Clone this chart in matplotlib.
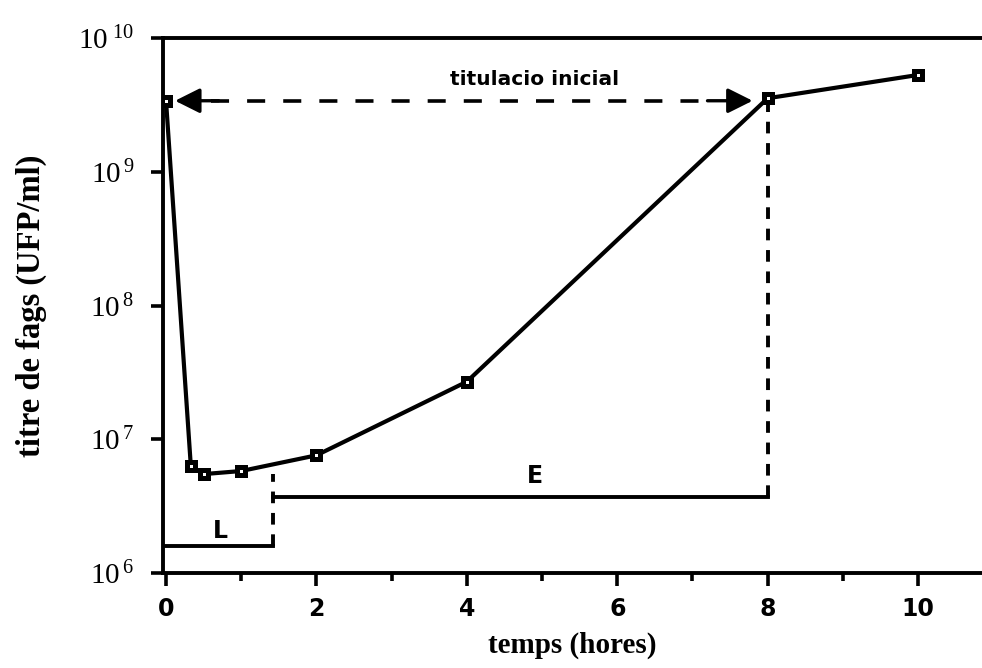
import numpy as np
import matplotlib
matplotlib.use("Agg")
import matplotlib.pyplot as plt
from matplotlib.ticker import FixedLocator, MultipleLocator

# dades llegides del grafic
temps = [0, 0.33, 0.5, 1, 2, 4, 8, 10]
titre = [3.4e9, 6.3e6, 5.5e6, 5.8e6, 7.6e6, 2.7e7, 3.55e9, 5.3e9]
x_ticks = [0, 2, 4, 6, 8, 10]
y_ticks = [1e6, 1e7, 1e8, 1e9, 1e10]
y_tick_labels = ["$10^{\\,6}$", "$10^{\\,7}$", "$10^{\\,8}$", "$10^{\\,9}$", "$10^{\\ 10}$"]

plt.rcParams['mathtext.fontset'] = 'custom'
plt.rcParams['mathtext.rm'] = 'Liberation Serif'
plt.rcParams['mathtext.it'] = 'Liberation Serif'

fig = plt.figure(figsize=(9.82, 6.68), dpi=100)
ax = fig.add_axes([0.166, 0.142, 0.834, 0.801])

ax.set_yscale('log')
ax.set_xlim(-0.04, 10.85)
ax.set_ylim(1e6, 1e10)

# corba principal
ax.plot(temps, titre, color='black', lw=3.0, zorder=3)
ax.plot(temps, titre, ls='none', marker='s', ms=6, mfc='white', mec='black', mew=3.6, zorder=4)

# titulacio inicial (fletxa discontinua)
y_arr = 3.4e9
ax.plot([0.6, 7.3], [y_arr, y_arr], color='black', lw=2.6, dashes=(5, 5), zorder=2)
ax.annotate('', xy=(0.12, y_arr), xytext=(0.7, y_arr),
            arrowprops=dict(arrowstyle='-|>', color='black', lw=2.4, mutation_scale=38, shrinkA=0, shrinkB=0))
ax.annotate('', xy=(7.8, y_arr), xytext=(7.2, y_arr),
            arrowprops=dict(arrowstyle='-|>', color='black', lw=2.4, mutation_scale=38, shrinkA=0, shrinkB=0))
ax.text(4.9, 4.9e9, 'titulacio inicial', fontsize=14.5, fontweight='bold', ha='center', va='center',
        family='DejaVu Sans')

# fases L i E
y_L = 1.6e6
y_E = 3.7e6
ax.plot([0, 1.42], [y_L, y_L], color='black', lw=2.8)
ax.plot([1.42, 1.42], [y_L, 5.5e6], color='black', lw=2.8, dashes=(3, 2.5))
ax.plot([1.42, 8], [y_E, y_E], color='black', lw=2.8)
ax.plot([8, 8], [y_E, 3.3e9], color='black', lw=2.8, dashes=(3, 2.5))
ax.text(0.72, 2.05e6, 'L', fontsize=17, fontweight='bold', ha='center', va='center', family='DejaVu Sans')
ax.text(4.9, 5.3e6, 'E', fontsize=17, fontweight='bold', ha='center', va='center', family='DejaVu Sans')

# eixos
ax.spines['right'].set_visible(False)
for s in ['left', 'top', 'bottom']:
    ax.spines[s].set_linewidth(2.8)

ax.xaxis.set_major_locator(FixedLocator(x_ticks))
ax.xaxis.set_minor_locator(MultipleLocator(1))
ax.set_xticklabels([str(t) for t in x_ticks], fontsize=17, fontweight='bold', family='DejaVu Sans')
ax.yaxis.set_major_locator(FixedLocator(y_ticks))
ax.yaxis.set_minor_locator(FixedLocator([]))
ax.set_yticklabels(y_tick_labels, fontsize=21)
ax.tick_params(axis='x', which='major', direction='out', length=9, width=2.6, pad=8)
ax.tick_params(axis='x', which='minor', direction='out', length=6, width=2.6)
ax.tick_params(axis='y', which='major', direction='out', length=9, width=2.6, pad=12)

ax.set_xlabel('temps (hores)', fontsize=21, fontweight='bold', family='Liberation Serif', labelpad=8)
ax.set_ylabel('titre de fags (UFP/ml)', fontsize=23.5, fontweight='bold', family='Liberation Serif', labelpad=22)

plt.savefig('out.png', dpi=100)
